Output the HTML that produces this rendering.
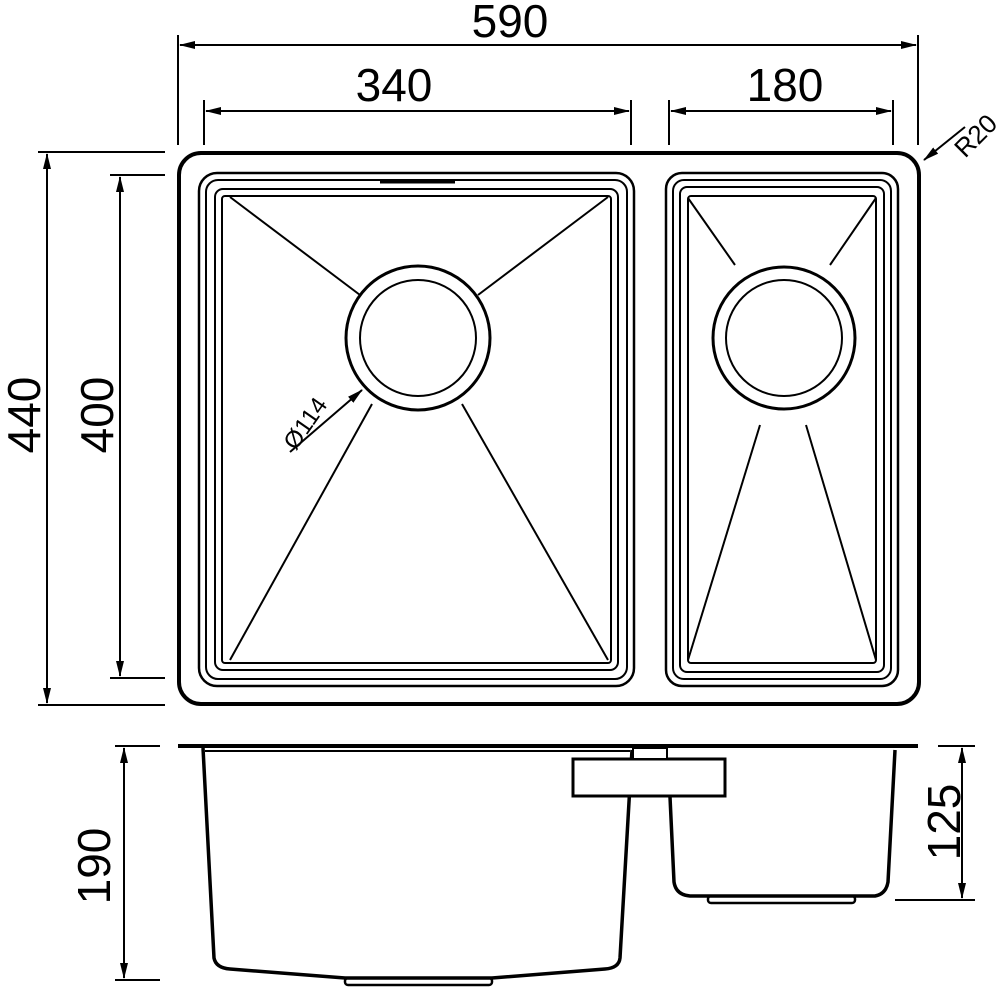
<!DOCTYPE html>
<html><head><style>html,body{margin:0;padding:0;background:#fff}svg{display:block}text{font-family:"Liberation Sans",sans-serif;fill:#000}</style></head>
<body>
<svg width="1000" height="987" viewBox="0 0 1000 987" xmlns="http://www.w3.org/2000/svg">
<defs>
<marker id="a" markerWidth="16" markerHeight="8" refX="15" refY="4" orient="auto-start-reverse" markerUnits="userSpaceOnUse"><path d="M0,0 L16,4 L0,8 z" fill="#000"/></marker>
</defs>
<g fill="none" stroke="#000">
<rect x="179" y="153" width="740" height="551" rx="22" stroke-width="4"/>
<rect x="199" y="173" width="435" height="513" rx="18" stroke-width="2.5"/>
<rect x="206" y="180" width="421" height="499" rx="12" stroke-width="2"/>
<rect x="215" y="189" width="403" height="481" rx="8" stroke-width="2"/>
<rect x="222" y="196" width="389" height="467" rx="3" stroke-width="2"/>
<line x1="380" y1="182" x2="455" y2="182" stroke-width="3"/>
<circle cx="418" cy="338" r="72" stroke-width="3"/>
<circle cx="418" cy="338" r="58" stroke-width="2"/>
<g stroke-width="2">
<line x1="230" y1="197" x2="360" y2="295"/>
<line x1="608" y1="197" x2="478" y2="295"/>
<line x1="230" y1="660" x2="372" y2="404"/>
<line x1="608" y1="660" x2="462" y2="404"/>
<line x1="688" y1="198" x2="735" y2="265"/>
<line x1="876" y1="198" x2="830" y2="265"/>
<line x1="688" y1="660" x2="760" y2="425"/>
<line x1="876" y1="660" x2="806" y2="425"/>
</g>
<rect x="666" y="173" width="232" height="513" rx="16" stroke-width="2.5"/>
<rect x="673" y="180" width="218" height="499" rx="11" stroke-width="2"/>
<rect x="680" y="187" width="204" height="485" rx="7" stroke-width="2"/>
<rect x="688" y="196" width="188" height="467" rx="3" stroke-width="2"/>
<circle cx="784" cy="338" r="71" stroke-width="3"/>
<circle cx="784" cy="338" r="58" stroke-width="2"/>
<g stroke-width="2">
<line x1="178" y1="35" x2="178" y2="145"/>
<line x1="918" y1="35" x2="918" y2="145"/>
<line x1="180" y1="45" x2="916" y2="45" marker-start="url(#a)" marker-end="url(#a)"/>
<line x1="204" y1="100" x2="204" y2="145"/>
<line x1="631" y1="100" x2="631" y2="145"/>
<line x1="206" y1="111" x2="629" y2="111" marker-start="url(#a)" marker-end="url(#a)"/>
<line x1="669" y1="100" x2="669" y2="145"/>
<line x1="893" y1="100" x2="893" y2="145"/>
<line x1="671" y1="111" x2="891" y2="111" marker-start="url(#a)" marker-end="url(#a)"/>
<line x1="38" y1="152" x2="165" y2="152"/>
<line x1="38" y1="705" x2="165" y2="705"/>
<line x1="47" y1="154" x2="47" y2="703" marker-start="url(#a)" marker-end="url(#a)"/>
<line x1="110" y1="175" x2="165" y2="175"/>
<line x1="110" y1="678" x2="165" y2="678"/>
<line x1="120" y1="177" x2="120" y2="676" marker-start="url(#a)" marker-end="url(#a)"/>
<line x1="965" y1="127" x2="924" y2="160" marker-end="url(#a)"/>
<line x1="290" y1="452" x2="362" y2="390" marker-end="url(#a)"/>
<line x1="115" y1="746" x2="160" y2="746"/>
<line x1="115" y1="980" x2="160" y2="980"/>
<line x1="124" y1="748" x2="124" y2="978" marker-start="url(#a)" marker-end="url(#a)"/>
<line x1="938" y1="746" x2="975" y2="746"/>
<line x1="895" y1="900" x2="975" y2="900"/>
<line x1="962" y1="748" x2="962" y2="898" marker-start="url(#a)" marker-end="url(#a)"/>
</g>
<line x1="178" y1="746" x2="918" y2="746" stroke-width="4"/>
<line x1="205" y1="751" x2="630" y2="751" stroke-width="2"/>
<path d="M203,748 L214,958 Q216,968 230,969 L345,978 L492,978 L605,969 Q619,968 620,958 L632,750" stroke-width="3.5"/>
<rect x="345" y="978" width="147" height="7" rx="3" stroke-width="2.5"/>
<path d="M670,797 L674,882 Q676,895 690,896 L875,896 Q886,894 888,882 L895,750" stroke-width="3.5"/>
<rect x="708" y="896" width="147" height="7" rx="3" stroke-width="2.5"/>
<rect x="573" y="759" width="152" height="37" stroke-width="3" fill="#fff"/>
<rect x="633" y="748" width="34" height="11" stroke-width="2" fill="#fff"/>
</g>
<g font-size="46">
<text x="510" y="37" text-anchor="middle">590</text>
<text x="394" y="101" text-anchor="middle">340</text>
<text x="785" y="101" text-anchor="middle">180</text>
<text transform="translate(40 415) rotate(-90)" text-anchor="middle">440</text>
<text transform="translate(113 415) rotate(-90)" text-anchor="middle">400</text>
<text transform="translate(110 866) rotate(-90)" text-anchor="middle">190</text>
<text transform="translate(960 822) rotate(-90)" text-anchor="middle">125</text>
</g>
<text transform="translate(982 142) rotate(-45)" text-anchor="middle" font-size="26">R20</text>
<text transform="translate(312 428) rotate(-55)" text-anchor="middle" font-size="24">Ø114</text>
</svg>
</body></html>
